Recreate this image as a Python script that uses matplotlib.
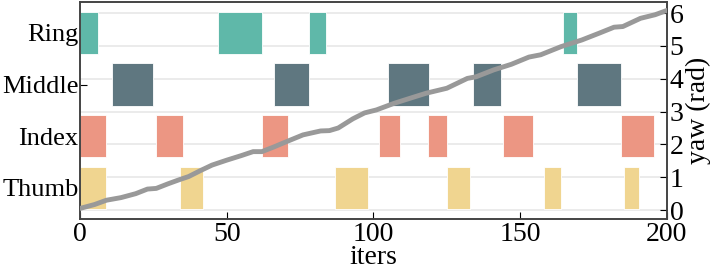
import matplotlib.pyplot as plt

plt.rcParams['font.family'] = ['Liberation Serif', 'DejaVu Serif']
plt.rcParams['font.size'] = 20

# finger contact intervals (start, end) in iters
fingers = ['Thumb', 'Index', 'Middle', 'Ring']
thumb = [(0, 9), (34, 42), (87, 98), (125, 133), (158, 164), (185.5, 190.5)]
index = [(0, 9), (26, 35), (62, 71), (102, 109), (118.5, 125), (144, 154.5), (184.5, 195.5)]
middle = [(11, 25), (66, 78), (105, 119), (134, 143.5), (169.5, 184.5)]
ring = [(0, 6), (47, 62), (78, 84), (164.5, 169.5)]
spans = [thumb, index, middle, ring]
colors = ['#f0d590', '#ec9683', '#5f7780', '#5fb8a9']

# yaw trajectory
iters = [0, 5, 9, 14, 19, 23, 26, 30, 34, 37, 41, 45, 50, 55, 59, 62, 66, 70, 76, 82,
         85, 88, 93, 97, 101, 107, 113, 118, 125, 132, 135, 141, 147, 153, 157, 164,
         171, 177, 182, 185, 191, 196, 200]
yaw = [0.05, 0.17, 0.3, 0.38, 0.5, 0.64, 0.66, 0.8, 0.93, 1.02, 1.2, 1.37, 1.52, 1.66,
       1.78, 1.78, 1.92, 2.07, 2.29, 2.41, 2.42, 2.5, 2.78, 2.96, 3.05, 3.25, 3.42, 3.56,
       3.71, 4.01, 4.06, 4.27, 4.44, 4.66, 4.73, 4.98, 5.18, 5.39, 5.57, 5.59, 5.84, 5.95,
       6.08]

fig = plt.figure(figsize=(7.14, 2.73), dpi=100)
ax = fig.add_axes([0.112, 0.198, 0.822, 0.795])
ax2 = ax.twinx()

# grid lines at the yaw ticks, drawn under the bars
yaw_lo, yaw_hi = -0.27, 6.34
cat_lo, cat_hi = -0.6, 3.6
for t in range(7):
    y = (t - yaw_lo) / (yaw_hi - yaw_lo) * (cat_hi - cat_lo) + cat_lo
    ax.axhline(y, color='#e8e8e8', lw=1.2, zorder=1)

for i, (sp, c) in enumerate(zip(spans, colors)):
    ax.broken_barh([(a, b - a) for a, b in sp], (i - 0.41, 0.82),
                   facecolors=c, edgecolor='white', linewidth=0.6, zorder=2)

ax.set_xlim(0, 200)
ax.set_ylim(cat_lo, cat_hi)
ax.set_yticks(range(len(fingers)))
ax.set_yticklabels(fingers, fontsize=19)
ax.set_xticks([0, 50, 100, 150, 200])
ax.set_xlabel('iters', labelpad=-1)
ax.tick_params(direction='in', length=5)
ax.tick_params(axis='y', pad=1)
ax.tick_params(axis='x', pad=2)

ax2.plot(iters, yaw, color='#999999', lw=3.5, solid_capstyle='round', zorder=3)
ax2.set_ylim(yaw_lo, yaw_hi)
ax2.set_yticks(range(7))
ax2.set_ylabel('yaw (rad)', labelpad=2)
ax2.tick_params(direction='in', length=5, pad=2)

for a in (ax, ax2):
    for s in a.spines.values():
        s.set_color('#444444')
        s.set_linewidth(1.2)

fig.savefig('out.png', dpi=100)
